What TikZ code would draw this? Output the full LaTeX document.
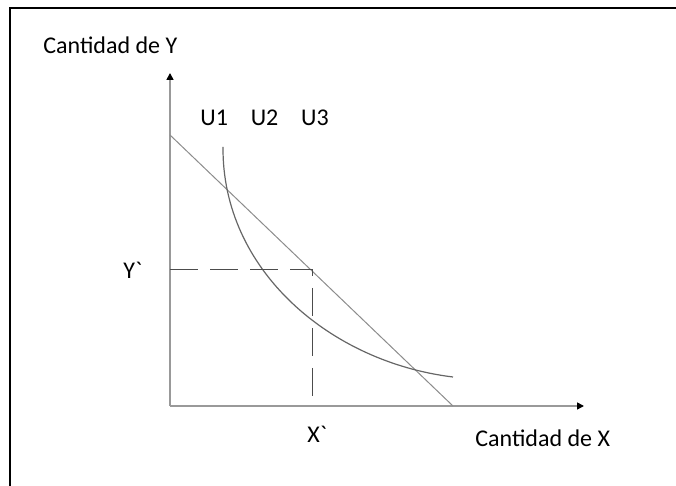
\documentclass[tikz,border=0pt]{standalone}
\usepackage{fontspec}
\setmainfont{Carlito}
\usetikzlibrary{positioning}
\usetikzlibrary{arrows.meta, positioning}
\tikzstyle{axis} = [draw=black!40, line width=0.8pt, -{Triangle[length=3.5pt,width=3.5pt,color=black]}]
\tikzstyle{budget} = [draw=black!45, line width=0.5pt]
\tikzstyle{curve} = [draw=black!60, line width=0.6pt]
\tikzstyle{guide} = [draw=black!70, line width=0.5pt, dash pattern=on 14pt off 6pt]
\tikzstyle{lbl} = [inner sep=0pt, anchor=base west, font=\fontsize{12}{14}\selectfont]

\begin{document}
\begin{tikzpicture}[x=0.5pt, y=-0.5pt]
    \useasboundingbox (0,0) rectangle (676,486);
    % Frame
    \draw[line width=1pt] (10,486) -- (10,8) -- (676,8);

    % Points
    \coordinate (O) at (170,406);
    \coordinate (Ytop) at (170,73);
    \coordinate (Xend) at (584,406);
    \coordinate (B1) at (170,135);
    \coordinate (B2) at (453,406);
    \coordinate (C1) at (223,147);
    \coordinate (C2) at (453,377);
    \coordinate (P) at (312,270);

    % Labels
    \node[lbl] (Ylabel) at (43,54) {Cantidad de Y};
    \node[lbl] (Xlabel) at (475,447) {Cantidad de X};
    \node[lbl] (U1) at (200,126) {U1};
    \node[lbl, base right=11pt of U1] (U2) {U2};
    \node[lbl, base right=11pt of U2] (U3) {U3};
    \node[lbl] (Ystar) at (123,279) {Y\textasciigrave};
    \node[lbl] (Xstar) at (307,443) {X\textasciigrave};

    % Axes
    \draw[axis] (O) -- (Ytop);
    \draw[axis] (O) -- (Xend);

    % Budget line and curve
    \draw[budget] (B1) -- (B2);
    \draw[curve] (C1) .. controls (222,270) and (330,362) .. (C2);

    % Guides
    \draw[guide] (O |- P) -- (P) -- (P |- O);
\end{tikzpicture}
\end{document}
